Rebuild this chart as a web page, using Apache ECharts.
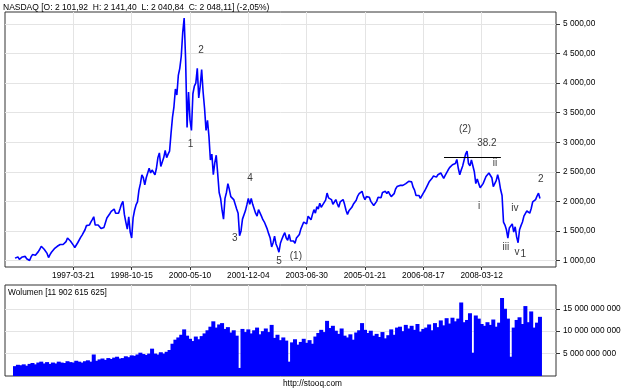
<!DOCTYPE html>
<html><head><meta charset="utf-8">
<script src="https://cdn.jsdelivr.net/npm/echarts@6/dist/echarts.min.js"></script>
<style>html,body{margin:0;padding:0;background:#fff}#c{width:625px;height:391px}</style>
</head><body><div id="c"></div>
<script>
const FONT = 'Liberation Sans, Arial, sans-serif';
const headerText = 'NASDAQ [O: 2 101,92  H: 2 141,40  L: 2 040,84  C: 2 048,11] (-2,05%)';
const volumeTitle = 'Wolumen [11 902 615 625]';
const footerText = 'http://stooq.com';

const tickLabels = ['1997-03-21','1998-10-15','2000-05-10','2001-12-04','2003-06-30','2005-01-21','2006-08-17','2008-03-12'];
const tickIndex = [20,40,60,80,100,120,140,160];
const priceTicks = [1000,1500,2000,2500,3000,3500,4000,4500,5000];
const volumeTicks = [5e9,10e9,15e9];

// price sampled every half step of the volume sampling
const priceStep = 0.5;
const price = [
1040,1055,1060,1020,1040,1060,1060,1070,1030,1050,
1000,1060,1100,1090,1090,1100,1150,1190,1240,1250,
1190,1180,1120,1050,1100,1140,1140,1200,1230,1240,
1220,1270,1290,1270,1290,1320,1380,1360,1330,1300,
1260,1220,1210,1300,1330,1390,1430,1450,1520,1590,
1590,1600,1650,1690,1740,1600,1590,1600,1600,1540,
1570,1560,1640,1720,1740,1790,1830,1860,1870,1800,
1770,1800,1870,1950,2000,1780,1650,1530,1740,1480,
1380,1720,1850,1940,1990,2190,2300,2450,2400,2280,
2400,2420,2560,2480,2530,2520,2450,2560,2740,2820,
2590,2620,2740,2860,2740,2800,2850,3150,3420,3600,
3900,3800,4130,4250,4450,4850,5100,4400,3250,3850,
3380,3200,3820,3950,4000,4250,3750,3950,4230,3850,
3570,3200,3370,3100,2700,2800,2450,2650,2780,2470,
2150,2050,1850,1700,2050,2150,2300,2200,2080,2100,
2030,2060,1870,1800,1420,1500,1700,1700,1840,1940,
2050,1950,2050,1950,1920,1800,1750,1860,1850,1750,
1690,1650,1640,1530,1450,1380,1230,1300,1410,1280,
1220,1140,1290,1360,1420,1470,1380,1340,1440,1330,
1300,1330,1290,1380,1360,1440,1530,1560,1650,1640,
1620,1750,1730,1690,1780,1860,1800,1910,1870,1970,
1900,1940,1950,2020,2140,2060,2080,2030,1950,1990,
2030,1960,1900,1990,2000,2030,1950,1850,1780,1840,
1850,1900,1950,1920,2020,2090,2130,2150,2170,2080,
2030,2080,2060,2070,2000,1990,1930,1930,2000,2070,
2080,2060,2150,2180,2170,2130,2170,2120,2080,2060,
2130,2210,2250,2230,2270,2260,2270,2280,2300,2310,
2340,2330,2330,2240,2190,2100,2130,2100,2050,2080,
2140,2180,2230,2260,2330,2350,2390,2430,2440,2410,
2450,2440,2480,2500,2390,2440,2470,2530,2570,2560,
2620,2620,2640,2710,2560,2450,2530,2600,2700,2800,
2850,2640,2600,2700,2690,2500,2300,2380,2300,2230,
2220,2300,2330,2420,2450,2480,2480,2400,2250,2280,
2350,2450,2350,2200,2100,1650,1600,1520,1380,1550,
1530,1620,1480,1570,1400,1300,1520,1590,1650,1750,
1720,1840,1830,1800,1880,1990,1990,2030,2090,2140,
2048];

const volumeBn = [
2.2,2.5,2.4,2.6,2.3,2.7,2.9,2.6,3.0,3.2,
2.8,3.1,2.7,3.0,2.8,3.2,3.0,2.9,3.3,3.1,
3.0,3.4,3.2,3.0,3.3,3.5,3.2,4.8,3.4,3.7,
3.9,3.6,4.0,3.8,4.1,4.3,3.9,4.0,4.4,4.2,
4.6,4.5,4.8,5.2,4.9,4.7,5.0,6.1,5.0,4.8,
5.3,5.0,5.4,5.8,7.2,8.1,8.6,9.2,10.4,9.0,
8.3,7.8,8.8,8.2,8.9,9.5,10.2,11.0,12.2,10.8,
11.5,11.8,10.5,10.9,9.7,10.2,9.0,1.8,10.5,9.8,
10.4,9.5,10.2,10.8,9.3,10.0,10.6,9.8,11.4,8.5,
9.2,8.0,8.6,7.9,3.2,7.5,8.2,7.0,7.6,8.3,
7.4,8.0,7.2,8.8,9.6,10.3,9.8,12.3,10.7,11.2,
10.1,9.4,10.6,9.0,8.6,9.3,8.1,9.7,10.2,11.8,
10.3,9.6,10.1,9.0,9.4,8.7,9.8,8.4,9.1,10.4,
9.2,10.8,11.0,10.0,11.4,10.6,11.2,10.3,11.6,9.9,
10.5,10.8,11.5,10.2,11.8,10.9,12.4,11.3,12.9,11.7,
13.0,12.2,12.8,16.4,12.0,12.5,14.0,5.2,13.5,12.8,
11.6,11.2,12.0,11.4,12.6,11.0,11.9,17.4,15.0,12.8,
4.3,10.8,12.5,13.1,11.6,15.6,12.0,14.4,10.8,11.9,
13.2];

// wave annotations: text, x in sample index, y in price units
const waveText = ['2','1','4','3','5','(1)','(2)','38.2','ii','i','iii','iv','v','1','2'];
const waveIdx  = [63.8,60.2,80.6,75.4,90.5,96.3,154.3,161.8,164.6,159.1,168.3,171.4,172.1,174.3,180.3];
const waveVal  = [4562,2960,2396,1381,992,1076,3225,2988,2650,1922,1228,1888,1144,1110,2379];
const fibFrom = 147.1, fibTo = 166.6, fibLevel = 2751;

function fmt(v, dec) {
  const s = dec ? v.toFixed(dec) : Math.round(v).toString();
  const parts = s.split('.');
  const ip = parts[0].replace(/\B(?=(\d{3})+(?!\d))/g, ' ');
  return parts[1] ? ip + ',' + parts[1] : ip;
}

const chart = echarts.init(document.getElementById('c'), null, {renderer: 'canvas'});
const gridColor = '#e4e4e4';
const frameColor = '#333';
const txt = {fontFamily: FONT, fontSize: 8.3, color: '#000'};

chart.setOption({
  animation: false,
  backgroundColor: '#fff',
  title: [
    {text: headerText, left: 3, top: 3, padding: 0, textStyle: Object.assign({}, txt, {fontSize: 8.5, fontWeight: 'normal'})},
    {text: volumeTitle, left: 6, top: 286, padding: [3, 2, 2, 2], backgroundColor: '#fff', textStyle: Object.assign({}, txt, {fontWeight: 'normal'})},
    {text: footerText, left: 'center', top: 380, padding: 0, textStyle: Object.assign({}, txt, {fontWeight: 'normal'})}
  ],
  grid: [
    {left: 5, right: 69, top: 12, bottom: 124, show: true, borderColor: frameColor, borderWidth: 1, backgroundColor: 'transparent'},
    {left: 5, right: 69, top: 285, bottom: 15, show: true, borderColor: frameColor, borderWidth: 1, backgroundColor: 'transparent'}
  ],
  xAxis: [
    {type: 'value', gridIndex: 0, min: -3.43, max: 185.5,
     axisLine: {show: false, onZero: false},
     axisTick: {show: true, customValues: tickIndex, length: 3, lineStyle: {color: frameColor}},
     axisLabel: Object.assign({show: true, customValues: tickIndex, margin: 5,
       formatter: v => tickLabels[tickIndex.indexOf(Math.round(v))] || ''}, txt),
     splitLine: {show: true, lineStyle: {color: gridColor, width: 1}}},
    {type: 'value', gridIndex: 1, min: -3.43, max: 185.5,
     axisLine: {show: false, onZero: false},
     axisTick: {show: false, customValues: tickIndex},
     axisLabel: {show: false, customValues: tickIndex},
     splitLine: {show: true, lineStyle: {color: gridColor, width: 1}}}
  ],
  yAxis: [
    {type: 'value', gridIndex: 0, position: 'right', min: 890, max: 5203,
     axisLine: {show: false, onZero: false},
     axisTick: {show: true, customValues: priceTicks, length: 4, lineStyle: {color: frameColor}},
     axisLabel: Object.assign({show: true, customValues: priceTicks, margin: 7, formatter: v => fmt(v, 2)}, txt),
     splitLine: {show: true, lineStyle: {color: gridColor, width: 1}}},
    {type: 'value', gridIndex: 1, position: 'right', min: 0, max: 20.3e9,
     axisLine: {show: false, onZero: false},
     axisTick: {show: true, customValues: volumeTicks, length: 4, lineStyle: {color: frameColor}},
     axisLabel: Object.assign({show: true, customValues: volumeTicks, margin: 7, formatter: v => fmt(v, 0)}, txt),
     splitLine: {show: true, lineStyle: {color: gridColor, width: 1}}}
  ],
  series: [
    {type: 'line', xAxisIndex: 0, yAxisIndex: 0, showSymbol: false, silent: true,
     data: price.map((v, k) => [k * priceStep, v]),
     lineStyle: {color: '#0000ff', width: 1.6},
     markPoint: {silent: true, symbol: 'circle', symbolSize: 0,
       data: waveText.map((t, k) => ({coord: [waveIdx[k], waveVal[k]], name: t,
         label: {show: true, position: 'inside', formatter: t, color: '#3a3a3a', fontSize: 10, fontFamily: FONT}}))},
     markLine: {silent: true, symbol: ['none', 'none'], label: {show: false},
       lineStyle: {color: '#000', width: 1, type: 'solid'},
       data: [[{coord: [fibFrom, fibLevel]}, {coord: [fibTo, fibLevel]}]]}},
    {type: 'bar', xAxisIndex: 1, yAxisIndex: 1, silent: true, barWidth: 4,
     data: volumeBn.map((v, i) => [i, v * 1e9]),
     itemStyle: {color: '#0000ff'}}
  ]
});
</script></body></html>
